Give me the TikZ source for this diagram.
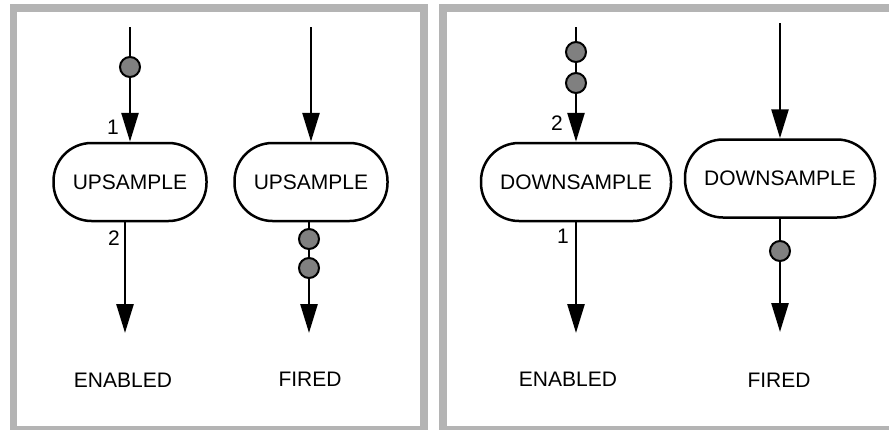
\documentclass[tikz,border=0pt]{standalone}
\usepackage{fontspec}
\setmainfont{Liberation Sans}
\usetikzlibrary{arrows.meta,positioning}
\definecolor{framegray}{RGB}{180,180,180}
\definecolor{tokengray}{RGB}{128,128,128}

\begin{document}
\begin{tikzpicture}[x=1pt, y=-1pt, font=\fontsize{21}{25}\selectfont,
    actor/.style={draw, line width=2.5pt, rounded corners=38pt, minimum height=78pt, inner sep=0pt, fill=white},
    token/.style={circle, draw, line width=2pt, fill=tokengray, minimum size=20pt, inner sep=0pt},
    arc/.style={line width=2.7pt, -{Triangle[length=29pt, width=17pt]}},
    panel/.style={draw=framegray, line width=7.5pt}]
        \path[use as bounding box, clip] (0,0) rectangle (889,429);

        % Frames
        \draw[panel] (13.5,8) rectangle (424,430);
        \draw[panel] (443,8) rectangle (900,430);

        % Actors
        \node[actor, minimum width=153pt] (up1) at (130,182) {UPSAMPLE};
        \node[actor, minimum width=153pt] (up2) at (311,182) {UPSAMPLE};
        \node[actor, minimum width=190pt] (down1) at (576,182) {DOWNSAMPLE};
        \node[actor, minimum width=190pt] (down2) at (780,178.5) {DOWNSAMPLE};

        % Free ends of the arcs
        \coordinate (up1in) at (130,27);
        \coordinate (up1out) at (125,333);
        \coordinate (up2in) at (311,27);
        \coordinate (up2out) at (309,333);
        \coordinate (down1in) at (576,27);
        \coordinate (down1out) at (576,333);
        \coordinate (down2in) at (780,23);
        \coordinate (down2out) at (780,332);

        % Arcs
        \draw[arc] (up1in) -- (up1in |- up1.north);
        \draw[arc] (up1out |- up1.south) -- (up1out);
        \draw[arc] (up2in) -- (up2in |- up2.north);
        \draw[arc] (up2out |- up2.south) -- (up2out);
        \draw[arc] (down1in) -- (down1in |- down1.north);
        \draw[arc] (down1out |- down1.south) -- (down1out);
        \draw[arc] (down2in) -- (down2in |- down2.north);
        \draw[arc] (down2out |- down2.south) -- (down2out);

        % Tokens
        \node[token] (t1) at (130,67) {};
        \node[token] (t2) at (309,239) {};
        \node[token] (t3) at (309,268) {};
        \node[token] (t4) at (576,52) {};
        \node[token] (t5) at (576,83) {};
        \node[token] (t6) at (780,251) {};

        % Rates
        \node (r1) at (113,127) {1};
        \node (r2) at (114,238) {2};
        \node (r3) at (557,123) {2};
        \node (r4) at (563,236) {1};

        % States
        \node (s1) at (123,380) {ENABLED};
        \node (s2) at (310,379) {FIRED};
        \node (s3) at (568,379) {ENABLED};
        \node (s4) at (779,380) {FIRED};
      \end{tikzpicture}
\end{document}
